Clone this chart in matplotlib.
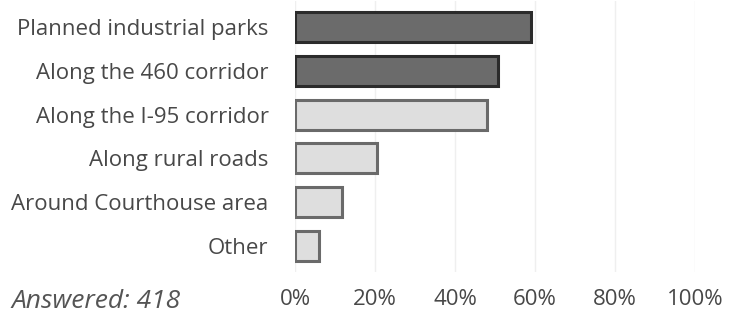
import numpy as np
import matplotlib
matplotlib.use("Agg")
import matplotlib.pyplot as plt

categories = ["Planned industrial parks", "Along the 460 corridor",
              "Along the I-95 corridor", "Along rural roads",
              "Around Courthouse area", "Other"]
values = [59.0, 50.7, 48.0, 20.5, 11.7, 6.0]
dark = [True, True, False, False, False, False]
xticks = [0, 20, 40, 60, 80, 100]
answered = "Answered: 418"

plt.rcParams['font.family'] = ['Open Sans', 'DejaVu Sans']

fig = plt.figure(figsize=(7.43, 3.24), dpi=100)
ax = fig.add_axes([295/743, 1 - 272/324, 400/743, 271/324])

y = np.arange(len(categories))
fills = ["#6b6b6b" if d else "#dedede" for d in dark]
edges = ["#2b2b2b" if d else "#6a6a6a" for d in dark]
ax.barh(y, values, height=0.68, color=fills, edgecolor=edges, linewidth=2.2, zorder=3)

ax.set_xlim(0, 100)
ax.set_ylim(len(categories) - 0.4, -0.6)
ax.set_xticks(xticks)
ax.set_xticklabels([f"{t}%" for t in xticks])
ax.set_yticks(y)
ax.set_yticklabels(categories)
ax.tick_params(axis="both", length=0, labelsize=16, colors="#484848")
ax.tick_params(axis="x", pad=12)
ax.tick_params(axis="y", pad=19)
ax.grid(axis="x", color="#efefef", linewidth=1, zorder=0)
for s in ax.spines.values():
    s.set_visible(False)

fig.text(11/743, 1 - 301/324, answered, fontsize=19, style="italic",
         color="#555555", va="center", ha="left")

fig.savefig("out.png", dpi=100)
